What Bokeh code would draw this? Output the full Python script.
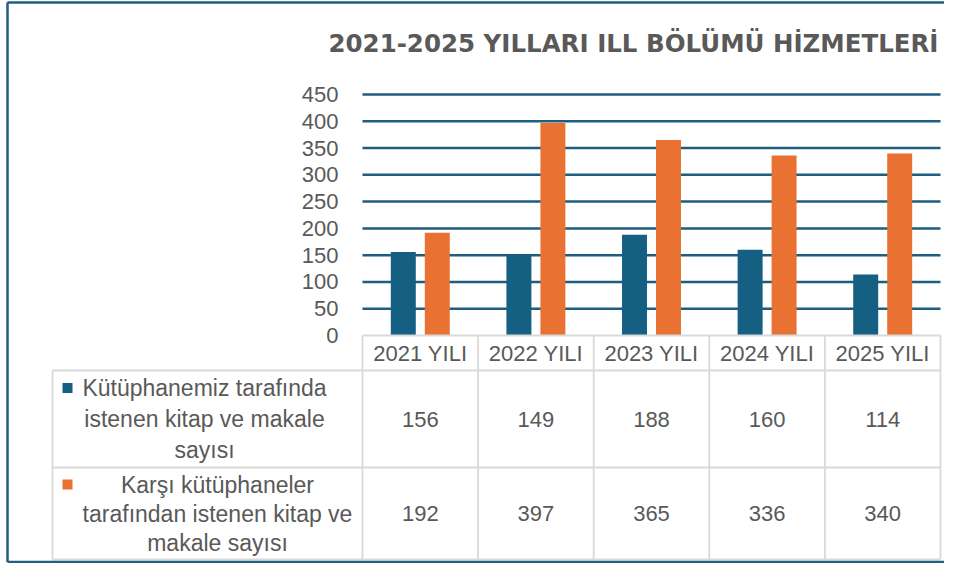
from bokeh.plotting import figure
from bokeh.models import Range1d, FixedTicker, ColumnDataSource
from bokeh.embed import file_html
from bokeh.resources import INLINE
from bokeh.core.properties import value

# ---------------- data ----------------
years = ["2021 YILI", "2022 YILI", "2023 YILI", "2024 YILI", "2025 YILI"]
ours = [156, 149, 188, 160, 114]          # Kütüphanemiz tarafında istenen
theirs = [192, 397, 365, 336, 340]        # Karşı kütüphaneler tarafından istenen
series_lines = [
    ["Kütüphanemiz tarafında", "istenen kitap ve makale", "sayısı"],
    ["Karşı kütüphaneler", "tarafından istenen kitap ve", "makale sayısı"],
]
y_ticks = [0, 50, 100, 150, 200, 250, 300, 350, 400, 450]
title_text = "2021-2025 YILLARI ILL BÖLÜMÜ HİZMETLERİ"

# ---------------- style ----------------
BLUE = "#156082"
ORANGE = "#E97132"
GRID = "#1d5d7e"
TXT = "#595959"
CELL = "#d9d9d9"
FRAME = "#1f5f80"
FONT = "Liberation Sans"

# ---------------- geometry (layout only, canvas px) ----------------
W, H = 944, 563
COL = 115.6               # px per category column
PPU = 241 / 450           # px per value unit
X0, Y0 = 362, 335         # canvas px of x=0 (bar area left) and y=0 (baseline)
n = len(years)


def ux(px):               # canvas px -> x data
    return (px - X0) / COL


def uy(px):               # canvas px (from top) -> y data
    return (Y0 - px) / PPU


label_w = 310 / COL
row_px = [335, 370, 467, 559]          # header top, row1 top, row2 top, bottom
row_y = [uy(v) for v in row_px]
header_mid = uy(353)
row_mid = [uy((row_px[1] + row_px[2]) / 2), uy((row_px[2] + row_px[3]) / 2)]

p = figure(width=W, height=H, x_range=Range1d(ux(0), ux(W)),
           y_range=Range1d(uy(H), uy(0)), output_backend="svg",
           toolbar_location=None, title=None, x_axis_location=None,
           y_axis_location="left", min_border=0)
p.outline_line_color = None
p.background_fill_color = "white"
p.border_fill_color = "white"
p.xgrid.visible = False
p.ygrid.visible = False

# y axis drawn at the left edge of the bar area
ax = p.yaxis[0]
ax.fixed_location = 0
ax.ticker = FixedTicker(ticks=y_ticks)
ax.axis_line_color = None
ax.major_tick_line_color = None
ax.minor_tick_line_color = None
ax.major_tick_out = 0
ax.major_tick_in = 0
ax.minor_tick_out = 0
ax.major_label_standoff = 24
ax.major_label_text_font = FONT
ax.major_label_text_font_size = "22px"
ax.major_label_text_color = TXT

# gridlines (50..450) across the bar area
g = y_ticks[1:]
p.segment(x0=[0] * len(g), y0=g, x1=[n] * len(g), y1=g,
          line_color=GRID, line_width=2.5)

# bars
xc = [i + 0.5 for i in range(n)]
BAR_W = 0.216
OFF = 0.147
src = ColumnDataSource(dict(
    xb=[x - OFF for x in xc], xo=[x + OFF for x in xc], ours=ours, theirs=theirs))
p.vbar(x="xb", top="ours", width=BAR_W, bottom=0, source=src,
       fill_color=BLUE, line_color=None)
p.vbar(x="xo", top="theirs", width=BAR_W, bottom=0, source=src,
       fill_color=ORANGE, line_color=None)

# ---------------- data table ----------------
hx0 = [0, -label_w, -label_w, -label_w]
hx1 = [n, n, n, n]
p.segment(x0=hx0, y0=row_y, x1=hx1, y1=row_y, line_color=CELL, line_width=1.8)
vx = [float(i) for i in range(n + 1)] + [-label_w]
vy0 = [row_y[0]] * (n + 1) + [row_y[1]]
vy1 = [row_y[3]] * (n + 2)
p.segment(x0=vx, y0=vy0, x1=vx, y1=vy1, line_color=CELL, line_width=1.8)

text_kw = dict(text_align="center", text_baseline="middle",
               text_font=value(FONT), text_font_size="22px", text_color=TXT)

p.text(x=xc, y=[header_mid] * n, text=years, **text_kw)
p.text(x=xc, y=[row_mid[0]] * n, text=[str(v) for v in ours], **text_kw)
p.text(x=xc, y=[row_mid[1]] * n, text=[str(v) for v in theirs], **text_kw)

line_gap = [31 / PPU, 29 / PPU]
label_cx = [ux(204), ux(217)]
lx, ly, lt = [], [], []
for r in range(2):
    lines = series_lines[r]
    for k, t in enumerate(lines):
        lx.append(label_cx[r])
        ly.append(row_mid[r] - (k - (len(lines) - 1) / 2) * line_gap[r])
        lt.append(t)
label_kw = dict(text_kw, text_font_size="23px")
p.text(x=lx, y=ly, text=lt, **label_kw)

key_x = ux(67)
p.scatter(x=[key_x, key_x],
          y=[row_mid[0] + line_gap[0], row_mid[1] + line_gap[1]],
          marker="square", size=10, fill_color=[BLUE, ORANGE], line_color=None)

# ---------------- title ----------------
p.text(x=[ux(328)], y=[uy(43)], text=[title_text], text_align="left",
       text_baseline="middle", text_font=value("DejaVu Sans"),
       text_font_style="bold", text_font_size="24.5px", text_color=TXT)

# ---------------- outer frame (left, top, bottom) ----------------
fx0, fx1 = ux(7), ux(W + 5)
fyt, fyb = uy(2), uy(H - 1.5)
p.segment(x0=[fx0, fx0, fx0], y0=[fyt, fyt, fyb], x1=[fx0, fx1, fx1],
          y1=[fyb, fyt, fyb], line_color=FRAME, line_width=2.5)

open("out.html", "w").write(file_html(p, INLINE))
